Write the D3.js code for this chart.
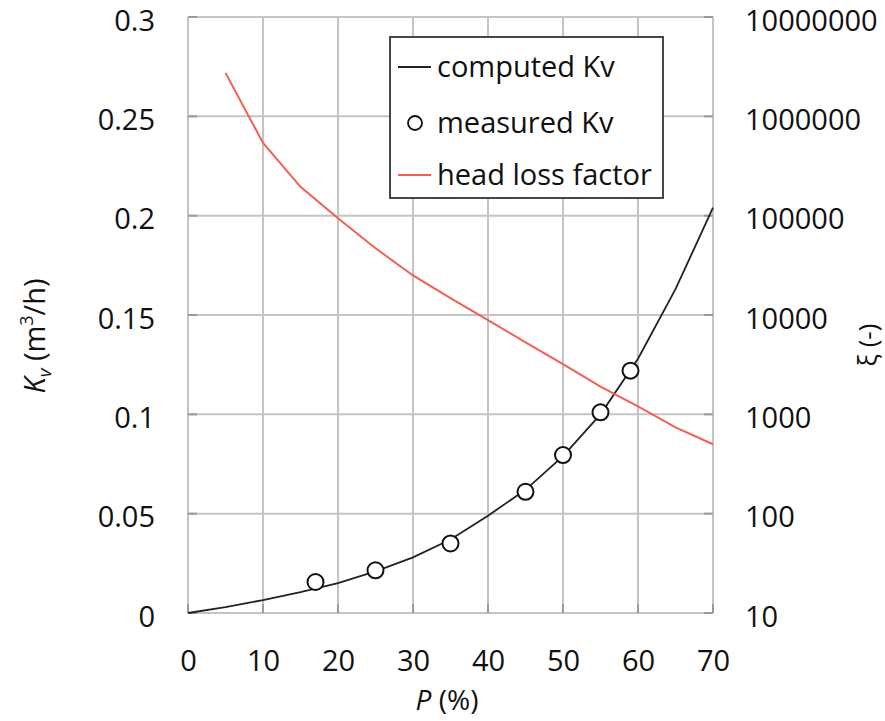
<!DOCTYPE html>
<html>
<head>
<meta charset="utf-8">
<script src="https://cdn.jsdelivr.net/npm/d3@7"></script>
<style>
  body { margin: 0; background: #fff; }
  text { font-family: "Open Sans", sans-serif; fill: #111; }
</style>
</head>
<body>
<svg id="chart" width="885" height="721"></svg>
<script>
// opening P (%) for the computed Kv curve
const computedP  = [0, 5, 10, 15, 20, 25, 30, 35, 40, 45, 50, 55, 60, 65, 70];
const computedKv = [0, 0.003, 0.0065, 0.0105, 0.015, 0.021, 0.028, 0.037, 0.049, 0.062, 0.079, 0.100, 0.128, 0.163, 0.204];

// measured points
const measuredP  = [17, 25, 35, 45, 50, 55, 59];
const measuredKv = [0.0156, 0.0215, 0.035, 0.061, 0.0795, 0.101, 0.122];

// head loss factor (right, log axis)
const lossP  = [5, 10, 15, 20, 25, 30, 35, 40, 45, 50, 55, 60, 65, 70];
const lossXi = [2740000, 540000, 195000, 94000, 47000, 25000, 14800, 8900, 5300, 3200, 1900, 1200, 740, 500];

const xTicks  = [0, 10, 20, 30, 40, 50, 60, 70];
const yTicks  = [0, 0.05, 0.1, 0.15, 0.2, 0.25, 0.3];
const yLabels = ["0", "0.05", "0.1", "0.15", "0.2", "0.25", "0.3"];
const rTicks  = [10, 100, 1000, 10000, 100000, 1000000, 10000000];

const legendNames = ["computed Kv", "measured Kv", "head loss factor"];

const svg = d3.select("#chart");

const x  = d3.scaleLinear().domain([0, 70]).range([188, 713]);
const yL = d3.scaleLinear().domain([0, 0.3]).range([613, 17]);
const yR = d3.scaleLog().domain([10, 1e7]).range([613, 17]);

const gridColor = "#c4c4c4";
const tickColor = "#9a9a9a";

// grid
const grid = svg.append("g");
grid.selectAll(".gx").data(xTicks).join("line")
    .attr("x1", d => x(d)).attr("x2", d => x(d))
    .attr("y1", yL(0.3)).attr("y2", yL(0))
    .attr("stroke", gridColor).attr("stroke-width", 2);
grid.selectAll(".gy").data(yTicks).join("line")
    .attr("x1", x(0)).attr("x2", x(70))
    .attr("y1", d => yL(d)).attr("y2", d => yL(d))
    .attr("stroke", gridColor).attr("stroke-width", 2);

// small inside ticks
grid.selectAll(".tb").data(xTicks).join("line")
    .attr("x1", d => x(d)).attr("x2", d => x(d))
    .attr("y1", yL(0)).attr("y2", yL(0) - 9)
    .attr("stroke", tickColor).attr("stroke-width", 2);
grid.selectAll(".tl").data(yTicks).join("line")
    .attr("x1", x(0)).attr("x2", x(0) + 9)
    .attr("y1", d => yL(d)).attr("y2", d => yL(d))
    .attr("stroke", tickColor).attr("stroke-width", 2);
grid.selectAll(".tr").data(rTicks).join("line")
    .attr("x1", x(70)).attr("x2", x(70) - 9)
    .attr("y1", d => yR(d)).attr("y2", d => yR(d))
    .attr("stroke", tickColor).attr("stroke-width", 2);

// axes (labels only)
const fs = 29;
const leftAxis = svg.append("g")
    .attr("transform", `translate(${x(0)},0)`)
    .call(d3.axisLeft(yL).tickValues(yTicks).tickSize(0).tickPadding(33)
        .tickFormat((d, i) => yLabels[i]));
const bottomAxis = svg.append("g")
    .attr("transform", `translate(0,${yL(0) + 48})`)
    .call(d3.axisBottom(x).tickValues(xTicks).tickSize(0).tickPadding(0)
        .tickFormat(d3.format("d")));
bottomAxis.selectAll("text").attr("y", 0).attr("dy", "0.36em");
const rightAxis = svg.append("g")
    .attr("transform", `translate(${x(70)},0)`)
    .call(d3.axisRight(yR).tickValues(rTicks).tickSize(0).tickPadding(32)
        .tickFormat(d3.format("d")));

[leftAxis, rightAxis].forEach(g => g.selectAll("text").attr("y", 4));
[leftAxis, bottomAxis, rightAxis].forEach(g => {
    g.select(".domain").remove();
    g.selectAll("text").style("font-size", fs + "px").style("font-family", "Open Sans").attr("fill", "#111");
});

// computed Kv
svg.append("path")
    .datum(computedP.map((p, i) => [p, computedKv[i]]))
    .attr("d", d3.line().x(d => x(d[0])).y(d => yL(d[1])))
    .attr("fill", "none").attr("stroke", "#222").attr("stroke-width", 1.8);

// head loss factor
svg.append("path")
    .datum(lossP.map((p, i) => [p, lossXi[i]]))
    .attr("d", d3.line().x(d => x(d[0])).y(d => yR(d[1])))
    .attr("fill", "none").attr("stroke", "#f4604f").attr("stroke-width", 2);

// measured circles
svg.selectAll(".meas").data(measuredP).join("circle")
    .attr("cx", d => x(d)).attr("cy", (d, i) => yL(measuredKv[i]))
    .attr("r", 8).attr("fill", "#fff").attr("stroke", "#111").attr("stroke-width", 2);

// legend
const lg = svg.append("g");
lg.append("rect")
    .attr("x", 390).attr("y", 37).attr("width", 273).attr("height", 161)
    .attr("fill", "#fff").attr("stroke", "#333").attr("stroke-width", 1.8);
const rowsY = [67, 123, 175];
lg.append("line").attr("x1", 398).attr("x2", 431).attr("y1", rowsY[0]).attr("y2", rowsY[0])
    .attr("stroke", "#222").attr("stroke-width", 1.8);
lg.append("circle").attr("cx", 415).attr("cy", rowsY[1]).attr("r", 7)
    .attr("fill", "#fff").attr("stroke", "#111").attr("stroke-width", 1.8);
lg.append("line").attr("x1", 398).attr("x2", 431).attr("y1", rowsY[2]).attr("y2", rowsY[2])
    .attr("stroke", "#f4604f").attr("stroke-width", 2);
lg.selectAll(".lt").data(legendNames).join("text")
    .attr("x", 437).attr("y", (d, i) => rowsY[i]).attr("dy", "0.35em")
    .style("font-size", fs + "px").text(d => d);

// axis titles
const kvTitle = svg.append("text")
    .attr("transform", "translate(45,336) rotate(-90)")
    .attr("text-anchor", "middle").style("font-size", "29px");
kvTitle.append("tspan").style("font-style", "italic").text("K");
kvTitle.append("tspan").style("font-style", "italic").style("font-size", "19px").attr("dy", 6).text("v");
kvTitle.append("tspan").attr("dy", -6).text(" (m");
kvTitle.append("tspan").style("font-size", "18px").attr("dy", -12).text("3");
kvTitle.append("tspan").attr("dy", 12).text("/h)");

const pTitle = svg.append("text")
    .attr("x", 447).attr("y", 700).attr("dy", "0.35em")
    .attr("text-anchor", "middle").style("font-size", "28px");
pTitle.append("tspan").style("font-style", "italic").text("P");
pTitle.append("tspan").text(" (%)");

svg.append("text")
    .attr("transform", "translate(877,345) rotate(-90)")
    .attr("text-anchor", "middle").style("font-size", "26px")
    .text("ξ (-)");
</script>
</body>
</html>
